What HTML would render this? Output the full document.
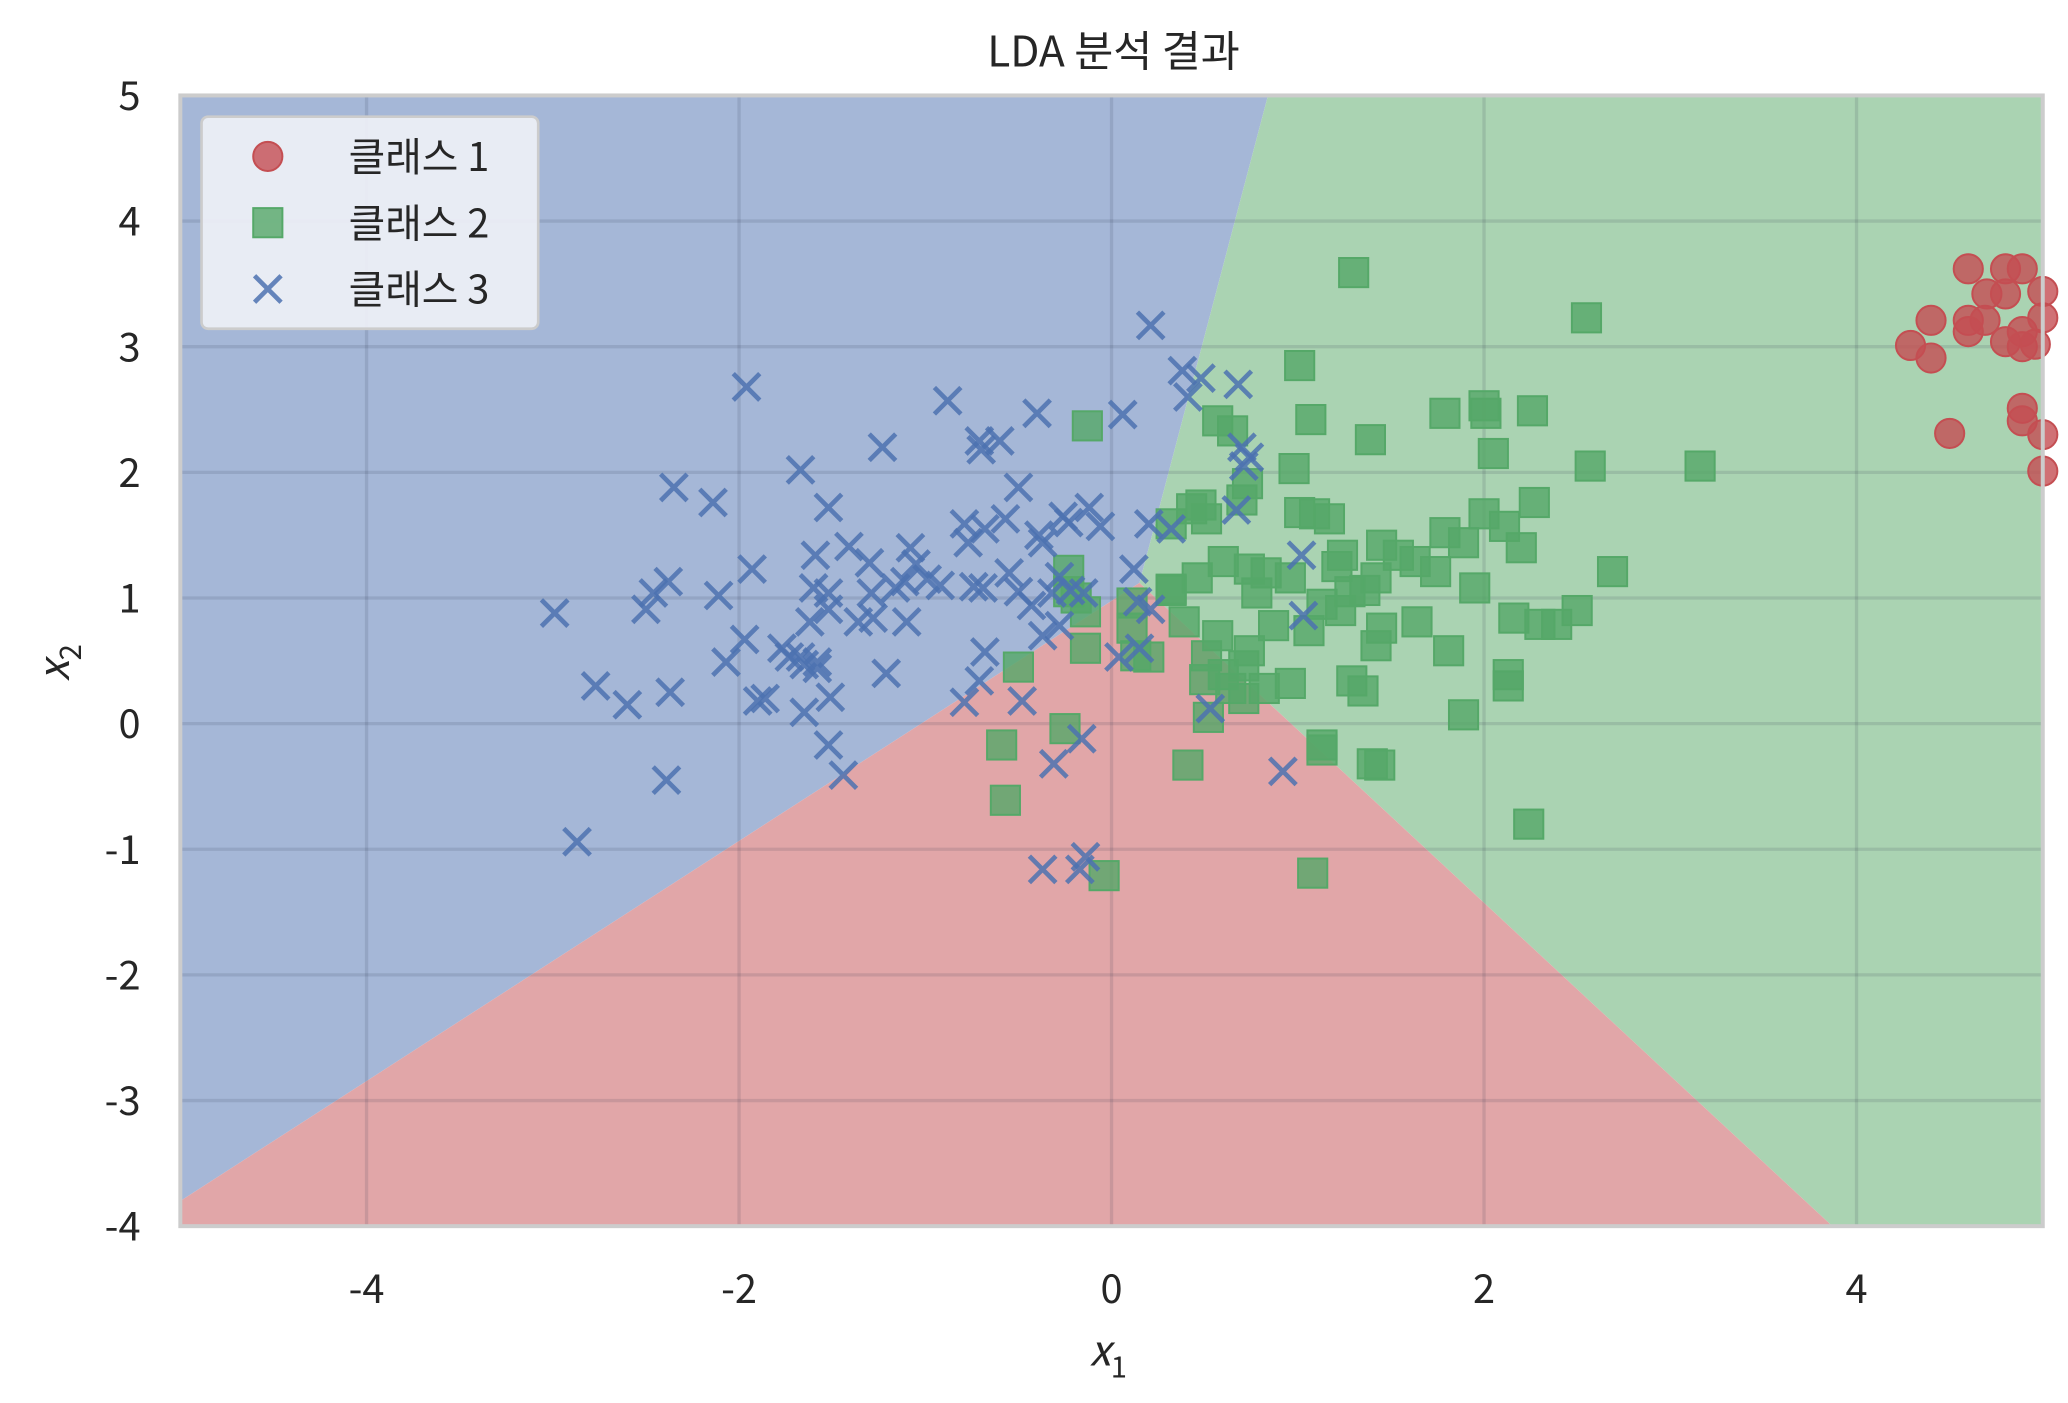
<!DOCTYPE html>
<html><head><meta charset="utf-8"><style>
html,body{margin:0;padding:0;background:#fff}
svg{display:block}
text{font-family:"Noto Sans CJK KR","NanumGothic","Liberation Sans",sans-serif;fill:#262626}
</style></head><body>
<svg id="chart" width="2068" height="1403" viewBox="0 0 1560 1058.4" xmlns="http://www.w3.org/2000/svg">
<g id="regions"></g>
<g id="grid"></g>
<g id="pts"></g>
<rect x="136" y="72" width="1405" height="853" fill="none" stroke="#cccccc" stroke-width="3"/>
<g id="ticks"></g>
<text x="840" y="50" font-size="32" text-anchor="middle">LDA 분석 결과</text>
<text x="836" y="1030" font-size="32" font-style="italic" text-anchor="middle">x<tspan font-size="22" dy="9" font-style="normal">1</tspan></text>
<text transform="translate(52,500) rotate(-90)" font-size="32" font-style="italic" text-anchor="middle">x<tspan font-size="22" dy="9" font-style="normal">2</tspan></text>
<g>
<rect x="152" y="88" width="254" height="160" rx="5" fill="#eef0f6" fill-opacity="0.92" stroke="#cccccc" stroke-width="2"/>
<g><circle cx="202" cy="118" r="11" fill="#c44e52" fill-opacity="0.8" stroke="#c44e52" stroke-width="1.5"/><text x="263" y="129" font-size="30">클래스 1</text></g>
<g><rect x="191" y="157" width="22" height="22" fill="#55a868" fill-opacity="0.8" stroke="#55a868" stroke-width="1.5"/><text x="263" y="179" font-size="30">클래스 2</text></g>
<g><path d="M192 208L212 228M212 208L192 228" stroke="#4c72b0" stroke-opacity="0.85" stroke-width="3.5"/><text x="263" y="229" font-size="30">클래스 3</text></g>
</g>
</svg>
<script>
const xTicks=[-4,-2,0,2,4];
const yTicks=[-4,-3,-2,-1,0,1,2,3,4,5];
const meet=[0.15,1.12];
const blueGreenTop=[0.84,5];
const blueRedLeft=[-5,-3.8];
const redGreenBottom=[3.87,-4];
const c1x=[4.60,4.80,4.89,4.40,4.60,4.29,4.40,4.69,4.60,4.80,4.89,5.00,4.50,4.89,4.89,5.00,5.00,5.00,4.70,4.80,4.89,4.96];
const c1y=[3.62,3.62,3.62,3.21,3.21,3.01,2.91,3.21,3.12,3.04,3.12,3.23,2.31,2.51,2.41,2.30,2.01,3.44,3.42,3.42,3.00,3.02];
const c2x=[1.30,2.55,1.01,-0.13,2.00,2.26,1.79,1.07,1.39,2.01,0.57,0.65,2.05,2.57,3.16,0.98,0.73,0.70,0.48,0.51,2.27,2.00,1.01,1.09,1.17,2.11,1.79,1.89,2.20,1.45,1.24,1.54,1.63,1.74,2.69,1.21,0.60,0.74,0.83,0.96,1.42,1.95,0.32,0.46,0.78,1.36,1.13,1.23,2.50,2.16,2.30,2.39,1.64,1.45,1.42,1.81,0.11,0.39,0.57,1.06,0.87,-0.23,-0.19,0.74,0.71,0.51,0.60,0.50,0.64,0.82,0.96,1.29,1.35,2.13,2.13,0.20,0.13,-0.14,-0.50,0.71,0.52,1.89,-0.25,-0.59,1.13,1.13,1.40,1.44,0.41,-0.57,2.24,-0.04,1.08,-0.14,-0.23,0.32,0.43,0.32,0.11,1.28];
const c2y=[3.59,3.23,2.85,2.37,2.53,2.49,2.47,2.42,2.26,2.47,2.41,2.33,2.15,2.05,2.05,2.03,1.91,1.78,1.74,1.63,1.76,1.67,1.68,1.67,1.63,1.57,1.52,1.44,1.40,1.42,1.34,1.34,1.29,1.21,1.21,1.25,1.29,1.23,1.20,1.16,1.16,1.08,1.06,1.16,1.04,1.06,0.95,0.90,0.90,0.84,0.79,0.79,0.81,0.76,0.62,0.58,0.96,0.81,0.70,0.74,0.78,1.22,1.00,0.58,0.46,0.54,0.39,0.35,0.28,0.28,0.32,0.34,0.26,0.39,0.30,0.53,0.54,0.60,0.45,0.20,0.05,0.07,-0.04,-0.17,-0.17,-0.21,-0.32,-0.33,-0.33,-0.61,-0.80,-1.21,-1.19,0.89,1.05,1.59,1.71,1.07,0.76,1.05];
const c3x=[0.21,0.38,0.48,0.41,0.68,0.06,-0.88,-0.40,-0.71,-0.60,-0.70,-1.96,-1.23,-2.35,-2.14,-1.67,-1.52,-0.50,-0.12,-0.26,-0.23,-0.06,-0.39,-0.79,-0.68,-0.57,-0.77,-0.37,-1.41,-1.59,-1.30,-1.08,-1.05,-1.11,-0.99,0.12,0.20,0.32,0.67,0.71,0.74,0.70,-1.93,-2.11,-2.46,-2.38,-2.50,-2.99,-1.60,-1.52,-1.29,-1.16,-0.92,-0.74,-0.69,-0.55,-0.28,-0.32,-0.50,-0.43,-0.22,-0.15,0.14,0.21,1.02,1.03,-1.52,-1.62,-1.36,-1.28,-1.10,-1.97,-2.07,-1.77,-1.73,-1.67,-1.58,-1.65,-1.58,-1.51,-1.86,-1.65,-1.90,-2.77,-2.37,-2.60,-1.21,-0.71,-0.68,-0.48,-0.79,-0.37,-0.28,-1.52,-1.44,-2.39,-2.87,-0.31,-0.16,0.92,0.53,-0.37,-0.14,-0.17,0.04,0.15];
const c3y=[3.17,2.81,2.75,2.60,2.70,2.46,2.57,2.47,2.25,2.25,2.18,2.68,2.20,1.88,1.76,2.02,1.72,1.88,1.72,1.65,1.60,1.57,1.50,1.59,1.55,1.63,1.44,1.44,1.41,1.34,1.28,1.40,1.27,1.13,1.15,1.23,1.59,1.55,1.70,2.05,2.12,2.20,1.23,1.02,1.04,1.13,0.91,0.88,1.08,1.04,1.04,1.08,1.10,1.09,1.08,1.20,1.17,1.04,1.05,0.94,1.06,1.04,0.97,0.91,1.34,0.86,0.91,0.81,0.81,0.84,0.81,0.67,0.49,0.60,0.53,0.53,0.49,0.47,0.44,0.21,0.20,0.09,0.18,0.30,0.25,0.15,0.40,0.34,0.57,0.18,0.17,0.70,0.78,-0.17,-0.41,-0.45,-0.94,-0.32,-0.12,-0.38,0.12,-1.16,-1.06,-1.16,0.53,0.60];

const NS='http://www.w3.org/2000/svg';
const X0=136,X1=1541,Y0=72,Y1=925,xmin=-5,xmax=5,ymin=-4,ymax=5;
const sx=v=>X0+(v-xmin)/(xmax-xmin)*(X1-X0);
const sy=v=>Y1-(v-ymin)/(ymax-ymin)*(Y1-Y0);
function mk(tag,parent,attrs){const e=document.createElementNS(NS,tag);for(const k in attrs)e.setAttribute(k,attrs[k]);parent.appendChild(e);return e;}
const P=p=>sx(p[0])+','+sy(p[1]);
const reg=document.getElementById('regions');
let e;
e=mk('polygon',reg,{points:[P([xmin,ymax]),P(blueGreenTop),P(meet),P(blueRedLeft)].join(' '),fill:'#a5b7d7'});


e=mk('polygon',reg,{points:[P(blueGreenTop),P([xmax,ymax]),P([xmax,ymin]),P(redGreenBottom),P(meet)].join(' '),fill:'#aad3b2'});


e=mk('polygon',reg,{points:[P(meet),P(redGreenBottom),P([xmin,ymin]),P(blueRedLeft)].join(' '),fill:'#e1a6a8'});


const grid=document.getElementById('grid'),ticks=document.getElementById('ticks');
xTicks.forEach(t=>{
 e=mk('line',grid,{x1:sx(t),x2:sx(t),y1:Y0,y2:Y1,stroke:'rgba(40,50,70,0.13)','stroke-width':2.5});
 
 
 e=mk('text',ticks,{x:sx(t),y:Y1+58,'font-size':30,'text-anchor':'middle'});e.textContent=t;
 
 
});
yTicks.forEach(t=>{
 e=mk('line',grid,{x1:X0,x2:X1,y1:sy(t),y2:sy(t),stroke:'rgba(40,50,70,0.13)','stroke-width':2.5});
 
 
 e=mk('text',ticks,{x:X0-30,y:sy(t)+11,'font-size':30,'text-anchor':'end'});e.textContent=t;
 
 
});
const pts=document.getElementById('pts');
c1x.forEach((v,i)=>{
 e=mk('circle',pts,{cx:sx(v),cy:sy(c1y[i]),r:11,fill:'#c44e52','fill-opacity':0.8,stroke:'#c44e52','stroke-width':1.5});
 
 
});
c2x.forEach((v,i)=>{
 e=mk('rect',pts,{x:sx(v)-11,y:sy(c2y[i])-11,width:22,height:22,fill:'#55a868','fill-opacity':0.8,stroke:'#55a868','stroke-width':1.5});
 
 
});
c3x.forEach((v,i)=>{
 const cx=sx(v),cy=sy(c3y[i]);
 e=mk('path',pts,{d:`M${cx-10} ${cy-10}L${cx+10} ${cy+10}M${cx+10} ${cy-10}L${cx-10} ${cy+10}`,stroke:'#4c72b0','stroke-opacity':0.85,'stroke-width':3.5});
 
 
});
</script>
</body></html>
